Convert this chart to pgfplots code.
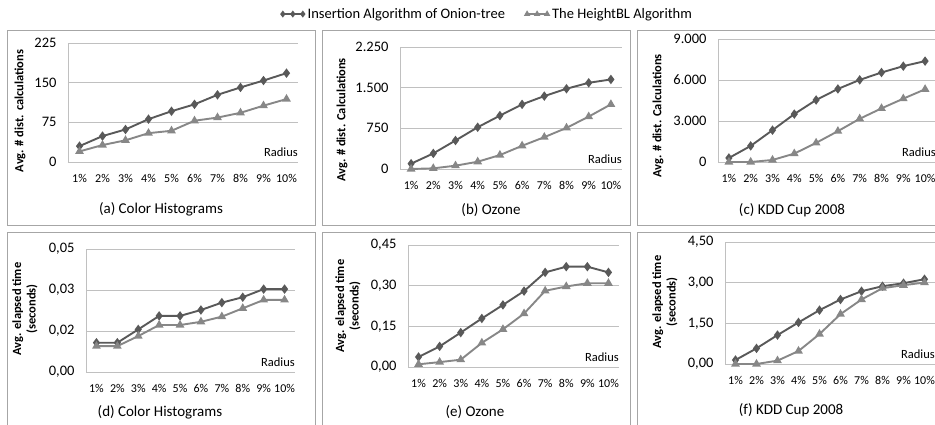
\documentclass[border=0pt]{standalone}
\usepackage{fontspec}
\setmainfont{Carlito}
\usepackage{pgfplots}
\pgfplotsset{compat=1.18}

\definecolor{onion}{HTML}{595959}
\definecolor{hbl}{HTML}{878787}
\definecolor{gridc}{HTML}{C0C0C0}
\definecolor{boxc}{HTML}{A6A6A6}

\pgfplotsset{
  panel/.style={
    scale only axis, anchor=south west, clip=false,
    xmin=0.5, xmax=10.5, xtick={1,...,10},
    xticklabels={1\%,2\%,3\%,4\%,5\%,6\%,7\%,8\%,9\%,10\%},
    axis x line*=bottom, axis y line*=left,
    axis line style={-, draw=gridc, line width=0.9pt},
    ymajorgrids, major grid style={draw=gridc, line width=0.9pt},
    major tick length=0pt, tick style={draw=none},
    scaled y ticks=false,
    xticklabel style={font=\fontsize{12}{14}\selectfont, yshift=-9pt},
    yticklabel style={font=\fontsize{14.5}{16}\selectfont, xshift=-8pt},
    ymin=0,
  },
  onionst/.style={color=onion, line width=1.9pt, mark=diamond*, mark size=3.2pt, mark options={solid, fill=onion}},
  hblst/.style={color=hbl, line width=1.9pt, mark=triangle*, mark size=3.2pt, mark options={solid, fill=hbl}},
}
\newcommand{\radius}{\node[anchor=base east, inner sep=0pt, font=\fontsize{12.5}{14}\selectfont, yshift=5pt] at (rel axis cs:1,0) {Radius};}

\begin{document}
\begin{tikzpicture}
\useasboundingbox (0pt,0pt) rectangle (935pt,425pt);
\clip (0pt,0pt) rectangle (935pt,425pt);

% panel boxes
\draw[boxc, line width=0.9pt] (7pt,200pt) rectangle (315pt,395pt);
\draw[boxc, line width=0.9pt] (322pt,200pt) rectangle (630pt,395pt);
\draw[boxc, line width=0.9pt] (637pt,200pt) rectangle (945pt,395pt);
\draw[boxc, line width=0.9pt] (7pt,-5pt) rectangle (315pt,193pt);
\draw[boxc, line width=0.9pt] (322pt,-5pt) rectangle (630pt,193pt);
\draw[boxc, line width=0.9pt] (637pt,-5pt) rectangle (945pt,193pt);

% (a)
\begin{axis}[panel, at={(68pt,263pt)}, width=230pt, height=119pt,
  ymax=225, ytick={0,75,150,225}, yticklabels={0,75,150,225}]
\addplot[onionst] coordinates {(1,30) (2,49) (3,61.5) (4,81) (5,96) (6,109) (7,127) (8,141) (9,154) (10,168)};
\addplot[hblst] coordinates {(1,20) (2,32) (3,41) (4,54.5) (5,59) (6,78) (7,84) (8,93) (9,106.5) (10,119)};
\radius
\end{axis}

% (b)
\begin{axis}[panel, at={(400pt,256pt)}, width=222pt, height=122pt,
  ymax=2250, ytick={0,750,1500,2250}, yticklabels={0,750,1.500,2.250},
  legend columns=2,
  legend style={at={(axis description cs:0.394,1.27)}, anchor=center, draw=none, fill=none,
    font=\fontsize{14.5}{16}\selectfont, /tikz/every even column/.append style={column sep=18pt},
    inner sep=0pt, /tikz/every odd column/.append style={column sep=1pt}},
  legend image code/.code={\draw[#1, line width=1.4pt, mark size=2.4pt] plot coordinates {(0pt,0pt) (10pt,0pt) (20pt,0pt)};}]
\addplot[onionst] coordinates {(1,98) (2,287) (3,526) (4,770) (5,984) (6,1192) (7,1345) (8,1480) (9,1590) (10,1651)};
\addlegendentry{Insertion Algorithm of Onion-tree}
\addplot[hblst] coordinates {(1,0) (2,12) (3,61) (4,134) (5,257) (6,428) (7,587) (8,758) (9,966) (10,1192)};
\addlegendentry{The HeightBL Algorithm}
\radius
\end{axis}

% (c)
\begin{axis}[panel, at={(718pt,263pt)}, width=218pt, height=123pt,
  ymax=9000, ytick={0,3000,6000,9000}, yticklabels={0,3.000,6.000,9.000}]
\addplot[onionst] coordinates {(1,294) (2,1177) (3,2330) (4,3507) (5,4537) (6,5346) (7,6008) (8,6548) (9,7014) (10,7381)};
\addplot[hblst] coordinates {(1,0) (2,0) (3,147) (4,613) (5,1398) (6,2256) (7,3163) (8,3924) (9,4635) (10,5322)};
\radius
\end{axis}

% (d)
\begin{axis}[panel, at={(86pt,53pt)}, width=209pt, height=123pt,
  ymax=0.05, ytick={0,0.0166667,0.0333333,0.05}, yticklabels={{0,00},{0,02},{0,03},{0,05}}]
\addplot[onionst] coordinates {(1,0.0119) (2,0.0119) (3,0.0173) (4,0.0228) (5,0.0228) (6,0.0252) (7,0.0282) (8,0.0304) (9,0.0337) (10,0.0337)};
\addplot[hblst] coordinates {(1,0.0105) (2,0.0105) (3,0.0146) (4,0.0191) (5,0.0191) (6,0.0204) (7,0.0225) (8,0.0259) (9,0.0293) (10,0.0293)};
\radius
\end{axis}

% (e)
\begin{axis}[panel, at={(408pt,58pt)}, width=211pt, height=122pt,
  ymax=0.45, ytick={0,0.15,0.30,0.45}, yticklabels={{0,00},{0,15},{0,30},{0,45}}]
\addplot[onionst] coordinates {(1,0.037) (2,0.076) (3,0.127) (4,0.179) (5,0.229) (6,0.280) (7,0.349) (8,0.370) (9,0.370) (10,0.349)};
\addplot[hblst] coordinates {(1,0.010) (2,0.018) (3,0.027) (4,0.089) (5,0.139) (6,0.197) (7,0.281) (8,0.297) (9,0.309) (10,0.309)};
\radius
\end{axis}

% (f)
\begin{axis}[panel, at={(725pt,61pt)}, width=210pt, height=122pt,
  ymax=4.5, ytick={0,1.5,3,4.5}, yticklabels={{0,00},{1,50},{3,00},{4,50}}]
\addplot[onionst] coordinates {(1,0.147) (2,0.576) (3,1.067) (4,1.533) (5,1.986) (6,2.379) (7,2.685) (8,2.869) (9,2.98) (10,3.127)};
\addplot[hblst] coordinates {(1,0) (2,0) (3,0.123) (4,0.478) (5,1.104) (6,1.839) (7,2.379) (8,2.796) (9,2.906) (10,3.004)};
\radius
\end{axis}

% panel titles
\begin{scope}[every node/.style={font=\fontsize{15}{17}\selectfont, inner sep=0pt}]
\node at (161pt,216pt) {(a) Color Histograms};
\node at (491pt,215pt) {(b) Ozone};
\node at (792pt,215pt) {(c) KDD Cup 2008};
\node at (160pt,13pt) {(d) Color Histograms};
\node at (475pt,13pt) {(e) Ozone};
\node at (791pt,15pt) {(f) KDD Cup 2008};
\end{scope}

% y labels
\begin{scope}[every node/.style={font=\bfseries\fontsize{12.5}{14.5}\selectfont, inner sep=0pt, rotate=90, align=center}]
\node at (20pt,314pt) {Avg. \# dist. calculations};
\node at (342pt,305pt) {Avg. \# dist. Calculations};
\node at (658pt,309pt) {Avg. \# dist. Calculations};
\node at (25pt,116pt) {Avg. elapsed time\\(seconds)};
\node at (348pt,119pt) {Avg. elapsed time\\(seconds)};
\node at (665pt,123pt) {Avg. elapsed time\\(seconds)};
\end{scope}
\end{tikzpicture}
\end{document}
